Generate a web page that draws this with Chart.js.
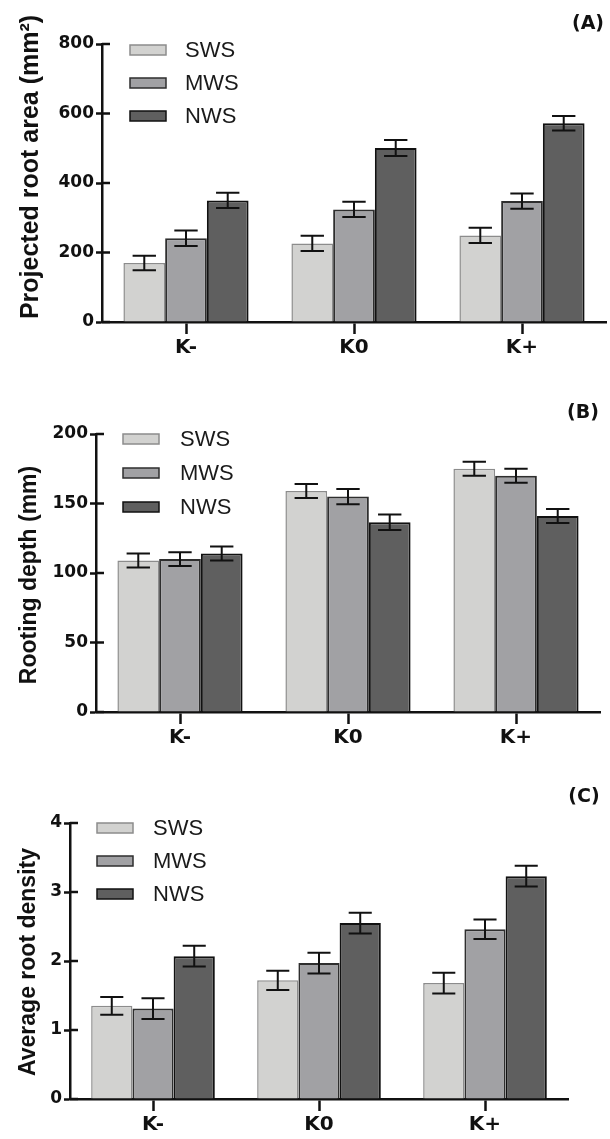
<!DOCTYPE html>
<html>
<head>
<meta charset="utf-8">
<script src="https://cdn.jsdelivr.net/npm/chart.js@4.4.1/dist/chart.umd.min.js"></script>
<style>
  body { margin: 0; background: #fff; width: 610px; height: 1139px; position: relative; overflow: hidden; }
  canvas { position: absolute; left: 0; }
</style>
</head>
<body>
<canvas id="chartA" width="610" height="370" style="top:0px"></canvas>
<canvas id="chartB" width="610" height="380" style="top:370px"></canvas>
<canvas id="chartC" width="610" height="389" style="top:750px"></canvas>
<script>
// categories and series
const categories = ["K-", "K0", "K+"];
const seriesNames = ["SWS", "MWS", "NWS"];

// (A) projected root area, mm2
const areaSWS = [170, 226, 249];
const areaMWS = [241, 324, 348];
const areaNWS = [350, 501, 572];
const areaErrSWS = [21, 22, 22];
const areaErrMWS = [22, 22, 22];
const areaErrNWS = [22, 23, 21];

// (B) rooting depth, mm
const depthSWS = [109, 159, 175];
const depthMWS = [110, 155, 170];
const depthNWS = [114, 136.5, 141];
const depthErrSWS = [5, 5, 5];
const depthErrMWS = [5, 5.5, 5];
const depthErrNWS = [5, 5.5, 5];

// (C) average root density
const densSWS = [1.35, 1.72, 1.68];
const densMWS = [1.31, 1.97, 2.46];
const densNWS = [2.07, 2.55, 3.23];
const densErrSWS = [0.13, 0.14, 0.15];
const densErrMWS = [0.15, 0.15, 0.14];
const densErrNWS = [0.15, 0.15, 0.15];

const fills = ["#d2d2d0", "#a1a1a4", "#5f5f5f"];
const borders = ["#8c8c8c", "#2e2e2e", "#111111"];
const ink = "#111";

const errorBars = {
  id: "errorBars",
  afterDatasetsDraw(chart) {
    const ctx = chart.ctx;
    const y = chart.scales.y;
    ctx.save();
    ctx.strokeStyle = ink;
    ctx.lineWidth = 2;
    chart.data.datasets.forEach((ds, i) => {
      chart.getDatasetMeta(i).data.forEach((bar, j) => {
        const v = ds.data[j], e = ds.errors[j];
        const top = y.getPixelForValue(v + e);
        const bot = y.getPixelForValue(v - e);
        const half = bar.width * 0.28;
        ctx.beginPath();
        ctx.moveTo(bar.x, top); ctx.lineTo(bar.x, bot);
        ctx.moveTo(bar.x - half, top); ctx.lineTo(bar.x + half, top);
        ctx.moveTo(bar.x - half, bot); ctx.lineTo(bar.x + half, bot);
        ctx.stroke();
      });
    });
    ctx.restore();
  }
};

// legend boxes inside the plot, tick stubs inside the y axis, titles
const panelDecor = {
  id: "panelDecor",
  afterDraw(chart, args, o) {
    const ctx = chart.ctx;
    const y = chart.scales.y;
    const left = chart.chartArea.left;
    ctx.save();
    ctx.strokeStyle = ink;
    ctx.lineWidth = 2.5;
    y.ticks.forEach((t, i) => {
      const py = y.getPixelForTick(i);
      ctx.beginPath();
      ctx.moveTo(left, py);
      ctx.lineTo(left + 8, py);
      ctx.stroke();
    });

    chart.data.datasets.forEach((ds, i) => {
      const cy = o.legendY + i * o.legendGap;
      ctx.fillStyle = ds.backgroundColor;
      ctx.fillRect(o.legendX, cy - 5, 36, 10);
      ctx.strokeStyle = ds.borderColor;
      ctx.lineWidth = 1.5;
      ctx.strokeRect(o.legendX, cy - 5, 36, 10);
      ctx.fillStyle = "#1a1a1a";
      ctx.font = "22px 'Liberation Sans', Arial, sans-serif";
      ctx.textBaseline = "middle";
      ctx.textAlign = "left";
      ctx.fillText(ds.label, o.textX, cy + 1);
    });

    ctx.fillStyle = ink;
    ctx.font = "bold 19px 'DejaVu Sans', sans-serif";
    ctx.textAlign = "center";
    ctx.textBaseline = "middle";
    ctx.fillText(o.tag, o.tagX, o.tagY);

    ctx.translate(o.titleX, o.titleY);
    ctx.rotate(-Math.PI / 2);
    ctx.font = "bold " + o.titleSize + "px 'Liberation Sans', Arial, sans-serif";
    ctx.fillText(o.title, 0, 0);
    ctx.restore();
  }
};

function makePanel(id, values, errors, yMax, step, g) {
  const canvas = document.getElementById(id);
  return new Chart(canvas, {
    type: "bar",
    data: {
      labels: categories,
      datasets: seriesNames.map((name, i) => ({
        label: name,
        data: values[i],
        errors: errors[i],
        backgroundColor: fills[i],
        borderColor: borders[i],
        borderWidth: i === 0 ? 1.5 : 2,
        categoryPercentage: 0.745,
        barPercentage: 1.0,
      })),
    },
    options: {
      responsive: false,
      animation: false,
      events: [],
      layout: { padding: { top: g.top, right: g.right, left: 0, bottom: 0 } },
      plugins: {
        legend: { display: false },
        tooltip: { enabled: false },
        panelDecor: g.decor,
      },
      scales: {
        x: {
          offset: true,
          grid: {
            display: true,
            drawOnChartArea: false,
            tickLength: 12,
            tickWidth: 2.5,
            tickColor: ink,
            offset: false,
          },
          border: { display: true, color: ink, width: 2.5 },
          ticks: {
            color: ink,
            padding: 2,
            font: { family: "'DejaVu Sans', sans-serif", weight: "bold", size: 20 },
          },
          afterFit: (s) => { s.height = canvas.height - g.bottom; },
        },
        y: {
          min: 0,
          max: yMax,
          grid: {
            display: true,
            drawOnChartArea: false,
            tickLength: 6,
            tickWidth: 2.5,
            tickColor: ink,
          },
          border: { display: true, color: ink, width: 2.5 },
          ticks: {
            stepSize: step,
            color: ink,
            padding: 2,
            font: { family: "'DejaVu Sans', sans-serif", weight: "bold", size: 17 },
          },
          afterFit: (s) => { s.width = g.left; },
        },
      },
    },
    plugins: [errorBars, panelDecor],
  });
}

makePanel("chartA",
  [areaSWS, areaMWS, areaNWS], [areaErrSWS, areaErrMWS, areaErrNWS], 800, 200,
  { top: 44, bottom: 322, left: 102, right: 4,
    decor: { legendX: 130, legendY: 50, legendGap: 33, textX: 185,
             tag: "(A)", tagX: 588, tagY: 24,
             title: "Projected root area (mm²)", titleX: 31, titleY: 167, titleSize: 25 } });

makePanel("chartB",
  [depthSWS, depthMWS, depthNWS], [depthErrSWS, depthErrMWS, depthErrNWS], 200, 50,
  { top: 64, bottom: 342, left: 96, right: 10,
    decor: { legendX: 123, legendY: 69, legendGap: 34, textX: 180,
             tag: "(B)", tagX: 583, tagY: 43,
             title: "Rooting depth (mm)", titleX: 30, titleY: 205, titleSize: 23 } });

makePanel("chartC",
  [densSWS, densMWS, densNWS], [densErrSWS, densErrMWS, densErrNWS], 4, 1,
  { top: 73, bottom: 349, left: 70, right: 42,
    decor: { legendX: 97, legendY: 78, legendGap: 33, textX: 153,
             tag: "(C)", tagX: 584, tagY: 47,
             title: "Average root density", titleX: 29, titleY: 212, titleSize: 23 } });
</script>
</body>
</html>
